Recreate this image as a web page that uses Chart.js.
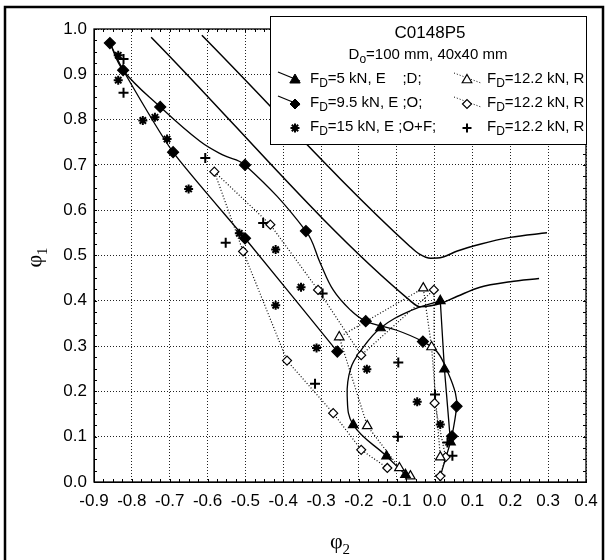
<!DOCTYPE html>
<html>
<head>
<meta charset="utf-8">
<script src="https://cdn.jsdelivr.net/npm/chart.js@4.4.1/dist/chart.umd.min.js"></script>
<style>
  html, body { margin: 0; padding: 0; background: #fff; }
  canvas { display: block; }
</style>
</head>
<body>
<canvas id="flcChart" width="608" height="560"></canvas>
<script>
// axis ticks
const xTickLabels = ['-0.9', '-0.8', '-0.7', '-0.6', '-0.5', '-0.4', '-0.3', '-0.2', '-0.1', '0.0', '0.1', '0.2', '0.3', '0.4'];
const yTickLabels = ['0.0', '0.1', '0.2', '0.3', '0.4', '0.5', '0.6', '0.7', '0.8', '0.9', '1.0'];

// limit curves (no markers)
const flcUpperPhi2 = [-0.615, -0.065, -0.040, -0.010, 0.020, 0.060, 0.120, 0.200, 0.297];
const flcUpperPhi1 = [0.986, 0.520, 0.503, 0.494, 0.496, 0.510, 0.525, 0.540, 0.550];
const flcLowerPhi2 = [-0.749, -0.064, -0.040, -0.010, 0.015, 0.060, 0.120, 0.200, 0.276];
const flcLowerPhi1 = [0.982, 0.400, 0.387, 0.389, 0.394, 0.410, 0.430, 0.442, 0.449];

// F_D = 5 kN, E (filled triangles) - measured points and the fitted path
const fd5Phi2 = [-0.077, -0.127, -0.215, -0.143, 0.015, 0.026, 0.042];
const fd5Phi1 = [0.016, 0.057, 0.126, 0.340, 0.400, 0.249, 0.088];
const fd5LoopPhi2 = [-0.077, -0.127, -0.215, -0.231, -0.222, -0.195, -0.143, -0.064, 0.015];
const fd5LoopPhi1 = [0.016, 0.057, 0.126, 0.190, 0.250, 0.290, 0.340, 0.378, 0.400];
const fd5DropPhi2 = [0.015, 0.026, 0.042, 0.015];
const fd5DropPhi1 = [0.400, 0.249, 0.088, 0.013];

// F_D = 9.5 kN, E (filled diamonds)
const fd95Phi2 = [-0.858, -0.823, -0.725, -0.691, -0.501, -0.501, -0.340, -0.257, -0.182, -0.031, 0.058, 0.046];
const fd95Phi1 = [0.969, 0.909, 0.828, 0.728, 0.700, 0.538, 0.554, 0.288, 0.355, 0.310, 0.167, 0.101];
const fd95UpperPhi2 = [-0.858, -0.823, -0.725, -0.620, -0.560, -0.501, -0.340, -0.302, -0.268, -0.223, -0.182, -0.100, -0.031, 0.007, 0.036, 0.055, 0.058, 0.046];
const fd95UpperPhi1 = [0.969, 0.909, 0.828, 0.752, 0.722, 0.700, 0.554, 0.483, 0.424, 0.380, 0.355, 0.335, 0.310, 0.287, 0.240, 0.196, 0.167, 0.101];
const fd95LowerPhi2 = [-0.858, -0.823, -0.691, -0.501, -0.257];
const fd95LowerPhi1 = [0.969, 0.909, 0.728, 0.538, 0.288];

// F_D = 15 kN, E (asterisks)
const fd15Phi2 = [-0.836, -0.836, -0.771, -0.739, -0.707, -0.650, -0.516, -0.420, -0.420, -0.353, -0.312, -0.179, -0.046, 0.015];
const fd15Phi1 = [0.942, 0.887, 0.798, 0.805, 0.757, 0.647, 0.549, 0.513, 0.390, 0.430, 0.296, 0.249, 0.177, 0.127];

// F_D = 12.2 kN, R (open triangles, path order)
const r1Phi2 = [-0.064, -0.093, -0.178, -0.252, -0.030, -0.008, 0.015];
const r1Phi1 = [0.013, 0.031, 0.124, 0.320, 0.428, 0.298, 0.055];

// F_D = 12.2 kN, R (open diamonds, path order)
const r2Phi2 = [-0.125, -0.194, -0.268, -0.390, -0.506, -0.582, -0.434, -0.308, -0.194, -0.002, 0.000, 0.029, 0.015];
const r2Phi1 = [0.031, 0.071, 0.152, 0.268, 0.509, 0.685, 0.568, 0.424, 0.280, 0.424, 0.174, 0.055, 0.013];

// F_D = 12.2 kN, R (plus signs)
const r3Phi2 = [-0.822, -0.822, -0.606, -0.552, -0.453, -0.296, -0.316, -0.096, -0.097, 0.001, 0.034, 0.047, 0.015];
const r3Phi1 = [0.934, 0.859, 0.715, 0.528, 0.572, 0.416, 0.217, 0.264, 0.100, 0.193, 0.087, 0.058, 0.014];

// legend texts
const legendTitle = 'C0148P5';
const legendSubtitle = ['D', 'o', '=100 mm, 40x40 mm'];
const legendLeft = ['=5 kN, E    ;D;', '=9.5 kN, E ;O;', '=15 kN, E ;O+F;'];
const legendRight = ['=12.2 kN, R', '=12.2 kN, R', '=12.2 kN, R'];

const pts = (xs, ys) => xs.map((x, i) => ({ x: x, y: ys[i] }));

const SANS = '"Liberation Sans", Arial, sans-serif';
const SERIF = '"Liberation Serif", "Times New Roman", serif';

function drawMarker(ctx, style, x, y, r, filled) {
    ctx.save();
    ctx.fillStyle = filled ? '#000' : '#fff';
    ctx.strokeStyle = '#000';
    ctx.lineWidth = filled ? 1 : 1.2;
    ctx.beginPath();
    if (style === 'triangle') {
        ctx.moveTo(x, y - r);
        ctx.lineTo(x + r * 0.866, y + r * 0.5);
        ctx.lineTo(x - r * 0.866, y + r * 0.5);
        ctx.closePath();
        ctx.fill(); ctx.stroke();
    } else if (style === 'rectRot') {
        ctx.moveTo(x - r, y); ctx.lineTo(x, y - r); ctx.lineTo(x + r, y); ctx.lineTo(x, y + r);
        ctx.closePath();
        ctx.fill(); ctx.stroke();
    } else if (style === 'star') {
        ctx.lineWidth = 2;
        ctx.moveTo(x - r, y); ctx.lineTo(x + r, y);
        ctx.moveTo(x, y - r); ctx.lineTo(x, y + r);
        const d = r * 0.707;
        ctx.moveTo(x - d, y - d); ctx.lineTo(x + d, y + d);
        ctx.moveTo(x - d, y + d); ctx.lineTo(x + d, y - d);
        ctx.stroke();
    } else if (style === 'cross') {
        ctx.lineWidth = 2;
        ctx.moveTo(x - r, y); ctx.lineTo(x + r, y);
        ctx.moveTo(x, y - r); ctx.lineTo(x, y + r);
        ctx.stroke();
    }
    ctx.restore();
}

function subText(ctx, x, y, main, sub, rest, size, measureOnly) {
    ctx.font = size + 'px ' + SANS;
    const w1 = ctx.measureText(main).width;
    ctx.font = Math.round(size * 0.78) + 'px ' + SANS;
    const w2 = ctx.measureText(sub).width;
    ctx.font = size + 'px ' + SANS;
    const w3 = ctx.measureText(rest).width;
    if (measureOnly) return w1 + w2 + w3;
    ctx.font = size + 'px ' + SANS;
    ctx.fillText(main, x, y);
    ctx.font = Math.round(size * 0.78) + 'px ' + SANS;
    ctx.fillText(sub, x + w1, y + size * 0.32);
    ctx.font = size + 'px ' + SANS;
    ctx.fillText(rest, x + w1 + w2, y);
    return w1 + w2 + w3;
}

const framePlugin = {
    id: 'framePlugin',
    afterDraw(chart) {
        const { ctx, chartArea: a, scales: { x, y } } = chart;
        ctx.save();
        // minor ticks, inward on all sides
        ctx.strokeStyle = '#000';
        ctx.lineWidth = 1;
        ctx.beginPath();
        for (let v = x.min; v <= x.max + 1e-9; v += 0.025) {
            const px = Math.round(x.getPixelForValue(v)) + 0.5;
            ctx.moveTo(px, a.bottom); ctx.lineTo(px, a.bottom - 3);
            ctx.moveTo(px, a.top); ctx.lineTo(px, a.top + 3);
        }
        for (let v = y.min; v <= y.max + 1e-9; v += 0.025) {
            const py = Math.round(y.getPixelForValue(v)) + 0.5;
            ctx.moveTo(a.left, py); ctx.lineTo(a.left + 3, py);
            ctx.moveTo(a.right, py); ctx.lineTo(a.right - 3, py);
        }
        ctx.stroke();
        // plot box
        ctx.lineWidth = 1.3;
        ctx.strokeRect(a.left, a.top, a.right - a.left, a.bottom - a.top);
        // outer frame
        ctx.lineWidth = 2.5;
        ctx.strokeRect(5, 7, 598, 560);

        // axis titles
        ctx.fillStyle = '#000';
        ctx.textBaseline = 'alphabetic';
        ctx.font = '22px ' + SERIF;
        const phiW = ctx.measureText('\u03c6').width;
        ctx.font = '15px ' + SERIF;
        const subW = ctx.measureText('2').width;
        const cx = (a.left + a.right) / 2;
        ctx.font = '22px ' + SERIF;
        ctx.textAlign = 'left';
        ctx.fillText('\u03c6', cx - (phiW + subW) / 2, 548);
        ctx.font = '15px ' + SERIF;
        ctx.fillText('2', cx - (phiW + subW) / 2 + phiW, 554);

        ctx.save();
        ctx.translate(41, (a.top + a.bottom) / 2 + 2);
        ctx.rotate(-Math.PI / 2);
        ctx.font = '22px ' + SERIF;
        ctx.fillText('\u03c6', -(phiW + subW) / 2, 0);
        ctx.font = '15px ' + SERIF;
        ctx.fillText('1', -(phiW + subW) / 2 + phiW, 6);
        ctx.restore();

        // legend box
        const L = { left: 270, top: 16, right: 586, bottom: 144 };
        ctx.fillStyle = '#fff';
        ctx.fillRect(L.left, L.top, L.right - L.left, L.bottom - L.top);
        ctx.strokeStyle = '#000';
        ctx.lineWidth = 1;
        ctx.strokeRect(L.left + 0.5, L.top + 0.5, L.right - L.left, L.bottom - L.top);
        ctx.fillStyle = '#000';
        ctx.textBaseline = 'middle';
        ctx.textAlign = 'left';
        const mid = (L.left + L.right) / 2;
        ctx.font = '17px ' + SANS;
        ctx.textAlign = 'center';
        ctx.fillText(legendTitle, mid + 2, 33);
        ctx.textAlign = 'left';
        const sw = subText(ctx, 0, 0, legendSubtitle[0], legendSubtitle[1], legendSubtitle[2], 15, true);
        subText(ctx, mid - sw / 2, 55, legendSubtitle[0], legendSubtitle[1], legendSubtitle[2], 15);

        const rowY = [79, 103, 127];
        const leftMarks = ['triangle', 'rectRot', 'star'];
        const rightMarks = ['triangle', 'rectRot', 'cross'];
        rowY.forEach((ry, i) => {
            // left column (solid lines, filled symbols)
            if (i < 2) {
                ctx.save();
                ctx.strokeStyle = '#000'; ctx.lineWidth = 1.2;
                ctx.beginPath(); ctx.moveTo(278, ry - 7); ctx.lineTo(300, ry + 2); ctx.stroke();
                ctx.restore();
            }
            drawMarker(ctx, leftMarks[i], 295, ry + 1, i === 1 ? 5 : (i === 0 ? 6 : 4.5), true);
            ctx.fillStyle = '#000';
            subText(ctx, 310, ry, 'F', 'D', legendLeft[i], 15);
            // right column (dotted lines, open symbols)
            if (i < 2) {
                ctx.save();
                ctx.strokeStyle = '#000'; ctx.lineWidth = 1; ctx.setLineDash([1, 2]);
                ctx.beginPath(); ctx.moveTo(454, ry - 6); ctx.lineTo(481, ry + 4); ctx.stroke();
                ctx.restore();
            }
            drawMarker(ctx, rightMarks[i], 467, ry + 1, i === 0 ? 5.5 : 4.5, i === 2);
            ctx.fillStyle = '#000';
            subText(ctx, 487, ry, 'F', 'D', legendRight[i], 15);
        });
        ctx.restore();
    }
};

Chart.defaults.font.family = SANS;
Chart.defaults.color = '#000';

const ctx = document.getElementById('flcChart').getContext('2d');
const lineDs = (label, data, opts) => Object.assign({
    label: label, data: data, showLine: true, pointRadius: 0, pointHoverRadius: 0,
    borderColor: '#000', borderWidth: 1.3, fill: false
}, opts);
const markDs = (label, data, style, r, filled) => ({
    label: label, data: data, showLine: false, pointStyle: style, pointRadius: r,
    pointHoverRadius: r, borderColor: '#000', backgroundColor: filled ? '#000' : '#fff',
    pointBorderWidth: (style === 'star' || style === 'cross') ? 2 : 1.2
});

const flcChart = new Chart(ctx, {
    type: 'scatter',
    data: {
        datasets: [
            markDs('F_D=5 kN, E', pts(fd5Phi2, fd5Phi1), 'triangle', 5.5, true),
            markDs('F_D=9.5 kN, E', pts(fd95Phi2, fd95Phi1), 'rectRot', 5.5, true),
            markDs('F_D=15 kN, E', pts(fd15Phi2, fd15Phi1), 'star', 4.5, true),
            markDs('F_D=12.2 kN, R (tri)', pts(r1Phi2, r1Phi1), 'triangle', 5.5, false),
            markDs('F_D=12.2 kN, R (dia)', pts(r2Phi2, r2Phi1), 'rectRot', 4.5, false),
            markDs('F_D=12.2 kN, R (plus)', pts(r3Phi2, r3Phi1), 'cross', 5, true),
            lineDs('R tri path', pts(r1Phi2, r1Phi1), { borderDash: [1, 2], borderWidth: 1.2, tension: 0 }),
            lineDs('R dia path', pts(r2Phi2, r2Phi1), { borderDash: [1, 2], borderWidth: 1.2, tension: 0 }),
            lineDs('5 kN loop', pts(fd5LoopPhi2, fd5LoopPhi1), { tension: 0.4 }),
            lineDs('5 kN drop', pts(fd5DropPhi2, fd5DropPhi1), { tension: 0 }),
            lineDs('9.5 kN upper', pts(fd95UpperPhi2, fd95UpperPhi1), { tension: 0.4 }),
            lineDs('9.5 kN lower', pts(fd95LowerPhi2, fd95LowerPhi1), { tension: 0.2 }),
            lineDs('FLC upper', pts(flcUpperPhi2, flcUpperPhi1), { cubicInterpolationMode: 'monotone', borderWidth: 1.5 }),
            lineDs('FLC lower', pts(flcLowerPhi2, flcLowerPhi1), { cubicInterpolationMode: 'monotone', borderWidth: 1.5 })
        ]
    },
    options: {
        responsive: false,
        animation: false,
        devicePixelRatio: 1,
        layout: { padding: { left: 0, top: 29, right: 22, bottom: 0 } },
        plugins: {
            legend: { display: false },
            tooltip: { enabled: false }
        },
        scales: {
            x: {
                type: 'linear',
                min: -0.9,
                max: 0.4,
                afterFit(scale) { scale.height = 78; },
                ticks: {
                    stepSize: 0.1,
                    autoSkip: false,
                    maxRotation: 0,
                    padding: 9,
                    font: { size: 17 },
                    callback: (v, i) => xTickLabels[i] !== undefined ? xTickLabels[i] : v.toFixed(1)
                },
                grid: { color: '#222', lineWidth: 1, drawTicks: false },
                border: { display: true, color: '#000', width: 1, dash: [1, 2] }
            },
            y: {
                type: 'linear',
                min: 0,
                max: 1,
                afterFit(scale) { scale.width = 94; },
                ticks: {
                    stepSize: 0.1,
                    autoSkip: false,
                    padding: 7,
                    font: { size: 17 },
                    callback: (v, i) => yTickLabels[i] !== undefined ? yTickLabels[i] : v.toFixed(1)
                },
                grid: { color: '#222', lineWidth: 1, drawTicks: false },
                border: { display: true, color: '#000', width: 1, dash: [1, 2] }
            }
        }
    },
    plugins: [framePlugin]
});
</script>
</body>
</html>
